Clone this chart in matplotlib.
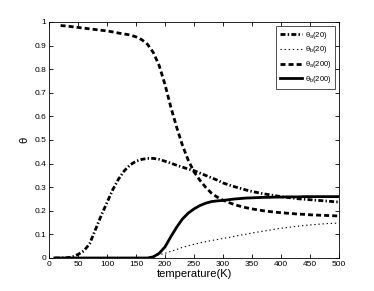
import matplotlib
matplotlib.use("Agg")
import matplotlib.pyplot as plt

plt.rcParams['font.family'] = ['Liberation Sans', 'DejaVu Sans']
plt.rcParams['mathtext.fontset'] = 'custom'
plt.rcParams['mathtext.rm'] = 'Liberation Sans'
plt.rcParams['mathtext.it'] = 'Liberation Sans'

T = [10, 20, 30, 40, 50, 60, 70, 80, 90, 100,
     110, 120, 130, 140, 150, 160, 170, 180, 190, 200,
     210, 220, 230, 240, 250, 260, 270, 280, 290, 300,
     310, 320, 330, 340, 350, 360, 370, 380, 390, 400,
     410, 420, 430, 440, 450, 460, 470, 480, 490, 500]

theta_a20 = [0.0, 0.0, 0.001, 0.004, 0.015, 0.03, 0.06, 0.12, 0.18, 0.235,
             0.29, 0.335, 0.37, 0.395, 0.41, 0.418, 0.422, 0.422, 0.418, 0.41,
             0.402, 0.393, 0.385, 0.377, 0.37, 0.36, 0.35, 0.34, 0.33, 0.318,
             0.31, 0.302, 0.295, 0.288, 0.282, 0.277, 0.272, 0.268, 0.264, 0.26,
             0.257, 0.254, 0.251, 0.249, 0.247, 0.245, 0.243, 0.241, 0.239, 0.237]

theta_b20 = [0.0, 0.0, 0.0, 0.0, 0.0, 0.0, 0.0, 0.0, 0.0, 0.0,
             0.0, 0.0, 0.0, 0.0, 0.0, 0.0, 0.002, 0.008, 0.014, 0.02,
             0.028, 0.036, 0.045, 0.052, 0.058, 0.064, 0.069, 0.074, 0.078, 0.083,
             0.087, 0.092, 0.097, 0.101, 0.106, 0.11, 0.114, 0.118, 0.122, 0.126,
             0.129, 0.132, 0.135, 0.138, 0.14, 0.142, 0.144, 0.146, 0.147, 0.148]

T_a200 = T[1:]
theta_a200 = [0.985, 0.983, 0.980, 0.977, 0.974, 0.971, 0.968, 0.965, 0.962,
              0.958, 0.953, 0.949, 0.945, 0.937, 0.925, 0.905, 0.87, 0.815, 0.735,
              0.64, 0.555, 0.478, 0.415, 0.365, 0.33, 0.30, 0.275, 0.258, 0.245,
              0.235, 0.226, 0.219, 0.213, 0.208, 0.204, 0.2, 0.197, 0.194, 0.192,
              0.19, 0.188, 0.186, 0.185, 0.183, 0.182, 0.181, 0.18, 0.179, 0.178]

theta_b200 = [0.0, 0.0, 0.0, 0.0, 0.0, 0.0, 0.0, 0.0, 0.0, 0.0,
              0.0, 0.0, 0.0, 0.0, 0.0, 0.0, 0.0, 0.005, 0.02, 0.047,
              0.09, 0.13, 0.165, 0.19, 0.208, 0.222, 0.232, 0.239, 0.242, 0.244,
              0.247, 0.25, 0.252, 0.254, 0.255, 0.256, 0.257, 0.257, 0.258, 0.258,
              0.259, 0.259, 0.259, 0.26, 0.26, 0.26, 0.26, 0.26, 0.26, 0.26]

labels = [r'$\theta_a$(20)', r'$\theta_b$(20)', r'$\theta_a$(200)', r'$\theta_b$(200)']

fig = plt.figure(figsize=(3.74, 2.91), dpi=100)
ax = fig.add_axes([49/374, 1 - 258/291, 290/374, 236/291])

ax.plot(T, theta_a20, color='black', linewidth=2, dashes=(1.8, 0.8, 0.5, 0.8), label=labels[0])
ax.plot(T, theta_b20, color='black', linewidth=0.8, dashes=(1.2, 2.5), label=labels[1])
ax.plot(T_a200, theta_a200, color='black', linewidth=2, dashes=(1.8, 1.1), label=labels[2])
ax.plot(T, theta_b200, color='black', linestyle='-', linewidth=2, label=labels[3])

ax.set_xlim(0, 500)
ax.set_ylim(0, 1)
ax.set_xticks(range(0, 501, 50))
ax.set_yticks([i / 10 for i in range(11)])
ax.set_yticklabels(['0', '0.1', '0.2', '0.3', '0.4', '0.5', '0.6', '0.7', '0.8', '0.9', '1'])
ax.tick_params(direction='in', top=True, right=True, labelsize=6, length=3, width=0.6, pad=2)
for s in ax.spines.values():
    s.set_linewidth(0.6)

ax.set_xlabel('temperature(K)', fontsize=8, labelpad=1)
ax.set_ylabel(r'$\theta$', fontsize=8, labelpad=3)

leg = ax.legend(loc='upper right', fontsize=5.5, frameon=True, fancybox=False,
                edgecolor='black', handlelength=2.8, borderpad=0.5, labelspacing=0.5,
                handletextpad=0.4, borderaxespad=0.5)
leg.get_frame().set_linewidth(0.6)

fig.savefig('out.png', dpi=100)
